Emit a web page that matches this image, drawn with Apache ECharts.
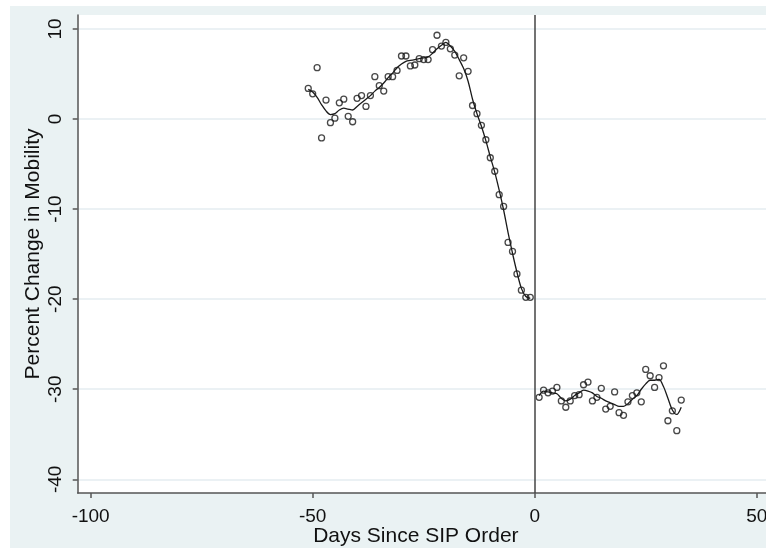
<!DOCTYPE html>
<html>
<head>
<meta charset="utf-8">
<script src="https://cdn.jsdelivr.net/npm/echarts@6/dist/echarts.min.js"></script>
<style>
html,body{margin:0;padding:0;background:#fff;}
#main{position:absolute;left:10px;top:6px;width:756px;height:542px;}
</style>
</head>
<body>
<div id="main"></div>
<script>
// Days before the shelter-in-place order (-51 .. -1)
const preDays = [-51,-50,-49,-48,-47,-46,-45,-44,-43,-42,-41,-40,-39,-38,-37,-36,-35,-34,-33,-32,-31,-30,-29,-28,-27,-26,-25,-24,-23,-22,-21,-20,-19,-18,-17,-16,-15,-14,-13,-12,-11,-10,-9,-8,-7,-6,-5,-4,-3,-2,-1];
const preValues = [3.4,2.8,5.7,-2.1,2.1,-0.4,0.1,1.8,2.2,0.3,-0.3,2.3,2.6,1.4,2.6,4.7,3.7,3.1,4.7,4.7,5.4,7.0,7.0,5.9,6.0,6.7,6.6,6.6,7.7,9.3,8.1,8.5,7.8,7.1,4.8,6.8,5.3,1.5,0.6,-0.7,-2.3,-4.3,-5.8,-8.4,-9.7,-13.7,-14.7,-17.2,-19.0,-19.8,-19.8];
const preFit = [3.3,3.0,2.4,1.6,0.9,0.5,0.6,1.0,1.2,1.1,1.0,1.4,1.8,2.2,2.6,3.1,3.5,4.0,4.6,5.1,5.7,6.1,6.4,6.5,6.6,6.7,6.8,6.9,7.3,7.8,8.2,8.5,8.1,7.5,6.6,5.6,4.2,2.2,0.6,-0.8,-2.4,-4.2,-5.9,-7.9,-10.1,-12.6,-14.9,-17.0,-18.8,-19.7,-19.9];
// Days after the order (1 .. 33)
const postDays = [1,2,3,4,5,6,7,8,9,10,11,12,13,14,15,16,17,18,19,20,21,22,23,24,25,26,27,28,29,30,31,32,33];
const postValues = [-30.9,-30.1,-30.4,-30.2,-29.8,-31.3,-32.0,-31.3,-30.7,-30.6,-29.5,-29.2,-31.3,-30.9,-29.9,-32.2,-31.9,-30.3,-32.6,-32.9,-31.4,-30.7,-30.4,-31.4,-27.8,-28.5,-29.8,-28.7,-27.4,-33.5,-32.4,-34.6,-31.2];
const postFit = [-30.7,-30.2,-30.3,-30.4,-30.5,-31.0,-31.3,-31.1,-30.7,-30.4,-30.1,-30.2,-30.4,-30.8,-31.0,-31.3,-31.5,-31.7,-31.9,-31.9,-31.6,-31.1,-30.7,-30.0,-29.4,-29.0,-29.0,-28.9,-29.7,-31.0,-32.3,-32.8,-32.0];
// Tick labels
const xTicks = [-100,-50,0,50];
const yTicks = [-40,-30,-20,-10,0,10];
const xTitle = 'Days Since SIP Order';
const yTitle = 'Percent Change in Mobility';

const zip = (a,b) => a.map((v,i)=>[v,b[i]]);
const font = 'Liberation Sans, Arial, sans-serif';
const axisCol = '#555555';
const gridCol = '#e4edf0';

const chart = echarts.init(document.getElementById('main'));
chart.setOption({
  backgroundColor: '#eaf2f3',
  animation: false,
  grid: {left: 67.7, top: 9, right: 0, bottom: 55, show: true, backgroundColor: '#ffffff', borderWidth: 0,
         containLabel: false, outerBoundsMode: 'none'},
  xAxis: {
    type: 'value', min: -102.92, max: 52.09,
    axisLine: {show: true, onZero: false, lineStyle: {color: axisCol, width: 1.5}},
    axisTick: {show: true, length: 5, lineStyle: {color: axisCol, width: 1.5}, customValues: xTicks},
    axisLabel: {customValues: xTicks, color: '#111', fontFamily: font, fontSize: 19, margin: 14},
    splitLine: {show: false},
    name: xTitle, nameLocation: 'middle', nameGap: 33, nameMoveOverlap: false,
    nameTextStyle: {color: '#111', fontFamily: font, fontSize: 21, padding: [0, 12, 0, 0]}
  },
  yAxis: {
    type: 'value', min: -41.52, max: 11.55,
    axisLine: {show: true, onZero: false, lineStyle: {color: axisCol, width: 1.5}},
    axisTick: {show: true, length: 5, lineStyle: {color: axisCol, width: 1.5}, customValues: yTicks},
    axisLabel: {customValues: yTicks, rotate: 90, color: '#111', fontFamily: font, fontSize: 19, margin: 12},
    splitLine: {show: true, lineStyle: {color: gridCol, width: 1.5}},
    name: yTitle, nameLocation: 'middle', nameGap: 34, nameMoveOverlap: false,
    nameTextStyle: {color: '#111', fontFamily: font, fontSize: 21}
  },
  series: [
    {type: 'line', data: zip(preDays, preFit), smooth: 0.3, showSymbol: false, symbol: 'none',
     lineStyle: {color: '#1a1a1a', width: 1.3}, z: 3,
     markLine: {silent: true, symbol: 'none', label: {show: false},
       lineStyle: {color: '#444', width: 1.5, type: 'solid'}, data: [{xAxis: 0}]}},
    {type: 'line', data: zip(postDays, postFit), smooth: 0.3, showSymbol: false, symbol: 'none',
     lineStyle: {color: '#1a1a1a', width: 1.3}, z: 3},
    {type: 'scatter', data: zip(preDays, preValues), symbol: 'circle', symbolSize: 6,
     itemStyle: {color: 'rgba(255,255,255,0)', borderColor: '#1a1a1a', borderWidth: 1.3}, z: 4},
    {type: 'scatter', data: zip(postDays, postValues), symbol: 'circle', symbolSize: 6,
     itemStyle: {color: 'rgba(255,255,255,0)', borderColor: '#1a1a1a', borderWidth: 1.3}, z: 4}
  ]
});
</script>
</body>
</html>
